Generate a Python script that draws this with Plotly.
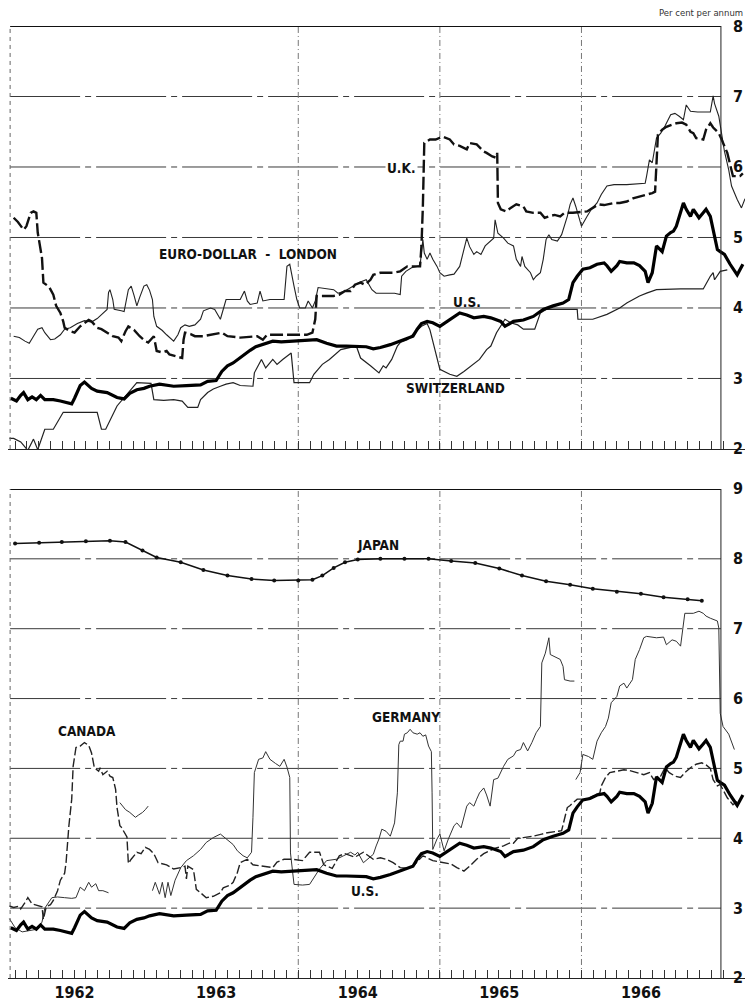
import plotly.graph_objects as go

# ---------------- data (decimal years, per cent per annum) ----------------
# U.S. treasury bill rate (shown in both panels)
us_x = [1961.97, 1962.01, 1962.04, 1962.06, 1962.09, 1962.12, 1962.15, 1962.18, 1962.21, 1962.27,
        1962.32, 1962.36, 1962.40, 1962.42, 1962.46, 1962.49, 1962.54, 1962.58, 1962.65, 1962.72,
        1962.77, 1962.81, 1962.86, 1962.91, 1962.95, 1963.02, 1963.07, 1963.12, 1963.21, 1963.31,
        1963.36, 1963.42, 1963.46, 1963.50, 1963.54, 1963.59, 1963.63, 1963.66, 1963.70, 1963.74,
        1963.78, 1963.82, 1963.88, 1963.95, 1964.03, 1964.13, 1964.20, 1964.27, 1964.34, 1964.41,
        1964.48, 1964.53, 1964.58, 1964.65, 1964.72, 1964.77, 1964.81, 1964.84, 1964.87, 1964.91,
        1964.95, 1965.00, 1965.07, 1965.14, 1965.19, 1965.24, 1965.31, 1965.36, 1965.43, 1965.46,
        1965.52, 1965.59, 1965.66, 1965.73, 1965.80, 1965.87, 1965.91, 1965.94, 1965.97, 1966.01,
        1966.06, 1966.11, 1966.16, 1966.18, 1966.21, 1966.25, 1966.27, 1966.32, 1966.37, 1966.41,
        1966.45, 1966.47, 1966.50, 1966.53, 1966.57, 1966.60, 1966.63, 1966.65, 1966.67, 1966.71,
        1966.72, 1966.74, 1966.77, 1966.79, 1966.83, 1966.86, 1966.88, 1966.91, 1966.93, 1966.96,
        1966.98, 1967.01, 1967.05, 1967.10, 1967.14]
us_y = [2.72, 2.68, 2.76, 2.80, 2.70, 2.74, 2.70, 2.76, 2.70, 2.70,
        2.68, 2.66, 2.64, 2.72, 2.90, 2.95, 2.86, 2.82, 2.80, 2.73,
        2.71, 2.79, 2.84, 2.86, 2.89, 2.92, 2.90, 2.89, 2.90, 2.91,
        2.96, 2.97, 3.10, 3.18, 3.22, 3.30, 3.36, 3.40, 3.45, 3.48,
        3.51, 3.53, 3.52, 3.53, 3.53, 3.55, 3.50, 3.46, 3.46, 3.46,
        3.45, 3.42, 3.44, 3.48, 3.53, 3.56, 3.60, 3.70, 3.78, 3.81,
        3.79, 3.74, 3.84, 3.93, 3.90, 3.86, 3.88, 3.86, 3.81, 3.74,
        3.81, 3.83, 3.88, 3.98, 4.03, 4.07, 4.12, 4.36, 4.45, 4.55,
        4.57, 4.62, 4.64, 4.60, 4.52, 4.60, 4.66, 4.64, 4.64, 4.60,
        4.52, 4.36, 4.50, 4.88, 4.80, 5.02, 5.07, 5.09, 5.16, 5.42,
        5.49, 5.40, 5.30, 5.40, 5.28, 5.35, 5.40, 5.30, 5.11, 4.83,
        4.80, 4.76, 4.62, 4.47, 4.62]

# U.K. treasury bill rate
uk_x = [1961.99, 1962.02, 1962.06, 1962.08, 1962.11, 1962.13, 1962.15, 1962.16, 1962.19, 1962.20,
        1962.24, 1962.27, 1962.29, 1962.32, 1962.34, 1962.35, 1962.39, 1962.42, 1962.46, 1962.49,
        1962.52, 1962.54, 1962.58, 1962.61, 1962.65, 1962.69, 1962.73, 1962.75, 1962.78, 1962.80,
        1962.84, 1962.88, 1962.92, 1962.94, 1962.98, 1963.00, 1963.04, 1963.07, 1963.09, 1963.13,
        1963.18, 1963.19, 1963.20, 1963.24, 1963.27, 1963.33, 1963.38, 1963.46, 1963.50, 1963.56,
        1963.59, 1963.71, 1963.75, 1963.78, 1963.90, 1964.06, 1964.10, 1964.12, 1964.13, 1964.20,
        1964.25, 1964.29, 1964.33, 1964.37, 1964.40, 1964.44, 1964.47, 1964.51, 1964.53, 1964.58,
        1964.67, 1964.72, 1964.77, 1964.86, 1964.87, 1964.88, 1964.89, 1964.93, 1964.97, 1965.02,
        1965.07, 1965.10, 1965.14, 1965.19, 1965.21, 1965.26, 1965.31, 1965.33, 1965.37, 1965.40,
        1965.405, 1965.41, 1965.43, 1965.47, 1965.50, 1965.54, 1965.59, 1965.61, 1965.66, 1965.71,
        1965.74, 1965.77, 1965.81, 1965.85, 1965.88, 1965.94, 1966.00, 1966.04, 1966.08, 1966.12,
        1966.16, 1966.19, 1966.23, 1966.27, 1966.32, 1966.37, 1966.41, 1966.46, 1966.50, 1966.52,
        1966.53, 1966.54, 1966.57, 1966.60, 1966.64, 1966.67, 1966.71, 1966.74, 1966.77, 1966.79,
        1966.81, 1966.86, 1966.88, 1966.91, 1966.93, 1966.97, 1966.99, 1967.01, 1967.03, 1967.07,
        1967.12, 1967.14]
uk_y = [5.28, 5.22, 5.11, 5.16, 5.35, 5.37, 5.35, 5.07, 4.71, 4.36,
        4.30, 4.19, 4.03, 3.93, 3.81, 3.72, 3.67, 3.65, 3.74, 3.79,
        3.83, 3.81, 3.72, 3.70, 3.65, 3.60, 3.58, 3.53, 3.67, 3.74,
        3.69, 3.60, 3.53, 3.51, 3.60, 3.39, 3.37, 3.39, 3.34, 3.32,
        3.29, 3.55, 3.65, 3.63, 3.60, 3.60, 3.62, 3.65, 3.60, 3.58,
        3.58, 3.60, 3.55, 3.62, 3.62, 3.62, 3.65, 3.84, 4.17, 4.17,
        4.17, 4.19, 4.24, 4.24, 4.33, 4.36, 4.33, 4.40, 4.47, 4.50,
        4.50, 4.52, 4.59, 4.59, 4.88, 5.44, 6.34, 6.39, 6.39, 6.43,
        6.39, 6.32, 6.30, 6.25, 6.34, 6.32, 6.22, 6.20, 6.15, 6.13,
        6.20, 5.49, 5.40, 5.37, 5.42, 5.47, 5.44, 5.37, 5.35, 5.35,
        5.28, 5.30, 5.32, 5.30, 5.35, 5.35, 5.36, 5.37, 5.42, 5.47,
        5.46, 5.47, 5.49, 5.49, 5.51, 5.56, 5.58, 5.61, 5.63, 5.65,
        6.01, 6.46, 6.53, 6.57, 6.60, 6.62, 6.63, 6.60, 6.50, 6.48,
        6.41, 6.39, 6.53, 6.62, 6.56, 6.48, 6.39, 6.29, 6.20, 5.87,
        5.87, 5.91]

# Euro-dollar deposit rate, London
euro_x = [1961.99, 1962.03, 1962.07, 1962.10, 1962.13, 1962.16, 1962.19, 1962.21, 1962.25, 1962.28,
          1962.32, 1962.35, 1962.39, 1962.44, 1962.49, 1962.54, 1962.58, 1962.62, 1962.65, 1962.66,
          1962.67, 1962.69, 1962.70, 1962.75, 1962.77, 1962.80, 1962.82, 1962.84, 1962.86, 1962.88,
          1962.91, 1962.93, 1962.95, 1962.97, 1962.98, 1963.00, 1963.04, 1963.07, 1963.12, 1963.15,
          1963.17, 1963.20, 1963.23, 1963.27, 1963.31, 1963.33, 1963.38, 1963.41, 1963.45, 1963.49,
          1963.54, 1963.59, 1963.62, 1963.64, 1963.66, 1963.71, 1963.73, 1963.75, 1963.80, 1963.90,
          1963.92, 1963.94, 1963.97, 1963.99, 1964.01, 1964.05, 1964.07, 1964.10, 1964.12, 1964.14,
          1964.25, 1964.28, 1964.33, 1964.38, 1964.43, 1964.48, 1964.52, 1964.55, 1964.62, 1964.68,
          1964.72, 1964.73, 1964.76, 1964.80, 1964.84, 1964.86, 1964.88, 1964.89, 1964.91, 1964.93,
          1964.95, 1964.98, 1965.00, 1965.03, 1965.07, 1965.10, 1965.14, 1965.17, 1965.19, 1965.21,
          1965.24, 1965.26, 1965.29, 1965.32, 1965.35, 1965.38, 1965.39, 1965.41, 1965.45, 1965.48,
          1965.52, 1965.54, 1965.57, 1965.58, 1965.60, 1965.64, 1965.66, 1965.68, 1965.71, 1965.73,
          1965.75, 1965.77, 1965.79, 1965.83, 1965.86, 1965.90, 1965.92, 1965.94, 1965.96, 1965.98,
          1966.00, 1966.04, 1966.07, 1966.11, 1966.14, 1966.18, 1966.23, 1966.32, 1966.41, 1966.45,
          1966.46, 1966.48, 1966.50, 1966.53, 1966.56, 1966.59, 1966.63, 1966.66, 1966.69, 1966.72,
          1966.74, 1966.77, 1966.82, 1966.86, 1966.91, 1966.93, 1966.94, 1966.97, 1966.99, 1967.01,
          1967.04, 1967.06, 1967.10, 1967.13, 1967.155]
euro_y = [3.60, 3.58, 3.53, 3.50, 3.60, 3.70, 3.72, 3.65, 3.55, 3.56,
          3.62, 3.70, 3.72, 3.78, 3.82, 3.80, 3.85, 3.92, 3.98, 4.22,
          4.26, 4.12, 3.98, 3.96, 3.95, 4.26, 4.31, 4.18, 4.03, 4.15,
          4.31, 4.33, 4.25, 4.12, 3.88, 3.74, 3.68, 3.62, 3.53, 3.62,
          3.72, 3.76, 3.74, 3.76, 3.84, 3.96, 4.00, 3.98, 3.84, 4.12,
          4.12, 4.12, 4.24, 4.10, 4.05, 4.07, 4.24, 4.10, 4.12, 4.12,
          4.59, 4.62, 4.31, 4.12, 4.00, 4.00, 4.10, 4.00, 4.10, 4.29,
          4.26, 4.21, 4.24, 4.30, 4.36, 4.40, 4.26, 4.21, 4.21, 4.21,
          4.19, 4.45, 4.52, 4.57, 4.59, 4.60, 4.97, 4.78, 4.69, 4.78,
          4.69, 4.59, 4.50, 4.45, 4.47, 4.48, 4.59, 4.83, 4.99, 4.87,
          4.76, 4.80, 4.76, 4.88, 4.93, 4.99, 5.25, 5.06, 4.99, 4.92,
          4.88, 4.69, 4.59, 4.73, 4.59, 4.50, 4.40, 4.45, 4.50, 4.69,
          4.97, 5.04, 4.97, 4.95, 5.04, 5.30, 5.47, 5.56, 5.44, 5.30,
          5.16, 5.30, 5.40, 5.49, 5.61, 5.73, 5.75, 5.75, 5.76, 5.77,
          5.87, 6.10, 6.06, 6.41, 6.48, 6.58, 6.74, 6.76, 6.72, 6.67,
          6.88, 6.79, 6.78, 6.78, 6.78, 7.01, 6.90, 6.72, 6.48, 6.22,
          5.96, 5.73, 5.54, 5.42, 5.55]

# Switzerland
swiss_x = [1961.96, 1961.99, 1962.04, 1962.09, 1962.13, 1962.16, 1962.21, 1962.27, 1962.34, 1962.45,
           1962.58, 1962.61, 1962.64, 1962.72, 1962.80, 1962.86, 1962.96, 1962.98, 1963.05, 1963.12,
           1963.18, 1963.22, 1963.29, 1963.31, 1963.36, 1963.40, 1963.45, 1963.49, 1963.54, 1963.59,
           1963.68, 1963.69, 1963.74, 1963.77, 1963.82, 1963.85, 1963.89, 1963.95, 1963.97, 1964.08,
           1964.11, 1964.17, 1964.22, 1964.27, 1964.30, 1964.41, 1964.44, 1964.51, 1964.57, 1964.60,
           1964.62, 1964.66, 1964.70, 1964.72, 1964.77, 1964.87, 1964.91, 1964.93, 1964.97, 1965.00,
           1965.07, 1965.12, 1965.17, 1965.28, 1965.33, 1965.36, 1965.40, 1965.46, 1965.50, 1965.55,
           1965.59, 1965.67, 1965.71, 1965.75, 1965.90, 1965.97, 1965.975, 1966.08, 1966.18, 1966.27,
           1966.32, 1966.41, 1966.46, 1966.53, 1966.70, 1966.86, 1966.91, 1966.93, 1966.94, 1966.98,
           1967.03]
swiss_y = [2.15, 2.15, 2.10, 1.98, 2.14, 1.99, 2.28, 2.28, 2.52, 2.52,
           2.52, 2.28, 2.28, 2.61, 2.80, 2.94, 2.93, 2.70, 2.69, 2.70,
           2.68, 2.59, 2.59, 2.70, 2.80, 2.85, 2.89, 2.92, 2.94, 2.90,
           2.89, 3.08, 3.27, 3.15, 3.27, 3.20, 3.27, 3.36, 2.94, 2.94,
           3.06, 3.20, 3.27, 3.36, 3.41, 3.46, 3.29, 3.18, 3.08, 3.18,
           3.15, 3.27, 3.46, 3.51, 3.55, 3.74, 3.78, 3.69, 3.36, 3.13,
           3.06, 3.03, 3.10, 3.27, 3.41, 3.46, 3.65, 3.84, 3.79, 3.76,
           3.70, 3.70, 3.93, 3.98, 3.98, 3.98, 3.84, 3.84, 3.91, 4.00,
           4.07, 4.17, 4.21, 4.26, 4.27, 4.27, 4.45, 4.50, 4.40, 4.52,
           4.54]

# Japan (bottom panel)
japan_x = [1962.00, 1962.17, 1962.33, 1962.50, 1962.67, 1962.78, 1962.90, 1963.00, 1963.17, 1963.33,
           1963.50, 1963.67, 1963.83, 1964.00, 1964.10, 1964.17, 1964.25, 1964.33, 1964.42, 1964.58,
           1964.75, 1964.92, 1965.08, 1965.25, 1965.42, 1965.58, 1965.75, 1965.92, 1966.08, 1966.25,
           1966.42, 1966.58, 1966.75, 1966.85]
japan_y = [8.22, 8.23, 8.24, 8.25, 8.26, 8.24, 8.12, 8.02, 7.95, 7.84,
           7.76, 7.71, 7.69, 7.69, 7.70, 7.76, 7.87, 7.95, 7.99, 8.00,
           8.00, 8.00, 7.97, 7.94, 7.86, 7.76, 7.68, 7.63, 7.57, 7.53,
           7.50, 7.45, 7.42, 7.40]

# Canada (bottom panel)
canada_x = [1961.96, 1961.99, 1962.03, 1962.04, 1962.07, 1962.09, 1962.12, 1962.15, 1962.19, 1962.20,
            1962.22, 1962.25, 1962.27, 1962.30, 1962.32, 1962.35, 1962.36, 1962.38, 1962.40, 1962.41,
            1962.43, 1962.46, 1962.49, 1962.52, 1962.54, 1962.56, 1962.59, 1962.60, 1962.62, 1962.65,
            1962.67, 1962.69, 1962.71, 1962.72, 1962.74, 1962.75, 1962.77, 1962.79, 1962.80, 1962.82,
            1962.86, 1962.89, 1962.92, 1962.95, 1962.98, 1963.01, 1963.07, 1963.12, 1963.17, 1963.20,
            1963.21, 1963.22, 1963.26, 1963.28, 1963.31, 1963.35, 1963.40, 1963.45, 1963.47, 1963.52,
            1963.54, 1963.57, 1963.59, 1963.64, 1963.68, 1963.75, 1963.82, 1963.85, 1963.90, 1963.96,
            1964.03, 1964.08, 1964.15, 1964.18, 1964.24, 1964.29, 1964.33, 1964.40, 1964.46, 1964.53,
            1964.58, 1964.62, 1964.67, 1964.72, 1964.77, 1964.82, 1964.88, 1964.95, 1965.02, 1965.08,
            1965.12, 1965.17, 1965.21, 1965.26, 1965.31, 1965.38, 1965.45, 1965.50, 1965.52, 1965.55,
            1965.59, 1965.66, 1965.72, 1965.76, 1965.83, 1965.86, 1965.90, 1965.92, 1965.97, 1966.04,
            1966.08, 1966.13, 1966.14, 1966.17, 1966.20, 1966.25, 1966.30, 1966.34, 1966.39, 1966.44,
            1966.48, 1966.51, 1966.56, 1966.59, 1966.62, 1966.66, 1966.70, 1966.73, 1966.77, 1966.81,
            1966.85, 1966.88, 1966.91, 1966.93, 1966.96, 1966.98, 1967.03, 1967.07, 1967.10]
canada_y = [3.03, 3.01, 3.03, 2.99, 3.08, 3.15, 3.06, 3.04, 3.02, 2.84,
            3.02, 3.05, 3.11, 3.25, 3.40, 3.50, 3.65, 4.18, 4.56, 5.03,
            5.30, 5.32, 5.37, 5.33, 5.22, 5.01, 4.96, 5.01, 4.91, 4.96,
            4.89, 4.87, 4.70, 4.44, 4.18, 4.16, 4.08, 4.02, 3.64, 3.70,
            3.80, 3.78, 3.87, 3.84, 3.78, 3.65, 3.62, 3.56, 3.58, 3.60,
            3.42, 3.60, 3.55, 3.27, 3.22, 3.15, 3.17, 3.22, 3.29, 3.33,
            3.37, 3.51, 3.65, 3.70, 3.62, 3.60, 3.58, 3.66, 3.70, 3.70,
            3.68, 3.80, 3.80, 3.62, 3.57, 3.75, 3.78, 3.73, 3.80, 3.70,
            3.72, 3.70, 3.65, 3.58, 3.57, 3.62, 3.75, 3.68, 3.65, 3.63,
            3.58, 3.53, 3.60, 3.70, 3.78, 3.85, 3.89, 3.94, 3.93, 4.00,
            4.01, 4.03, 4.06, 4.08, 4.10, 4.11, 4.44, 4.47, 4.56, 4.56,
            4.60, 4.65, 4.75, 4.87, 4.94, 4.96, 4.98, 4.97, 4.94, 4.91,
            4.94, 4.84, 4.89, 5.01, 4.94, 4.89, 4.87, 4.94, 5.01, 5.06,
            5.08, 5.05, 5.00, 4.84, 4.75, 4.77, 4.58, 4.48, 4.53]

# Germany (bottom panel; None marks breaks in the printed line)
germany_x = [1961.96, 1962.00, 1962.05, 1962.10, 1962.16, 1962.19, 1962.21, 1962.26, 1962.30, 1962.35,
             1962.40, 1962.43, 1962.46, 1962.49, 1962.52, 1962.54, 1962.57, 1962.59, 1962.62, 1962.66,
             None,
             1962.74, 1962.78, 1962.81, 1962.85, 1962.87, 1962.90, 1962.92, 1962.94,
             None,
             1962.97, 1962.99, 1963.02, 1963.04, 1963.06, 1963.08, 1963.10, 1963.13, 1963.17, 1963.21,
             1963.26, 1963.31, 1963.35, 1963.40, 1963.45, 1963.49, 1963.54, 1963.57, 1963.61, 1963.64,
             1963.67, 1963.68, 1963.69, 1963.72, 1963.75, 1963.77, 1963.80, 1963.84, 1963.87, 1963.90,
             1963.92, 1963.94, 1963.945, 1963.97, 1964.03, 1964.08, 1964.13, 1964.15, 1964.20, 1964.27,
             1964.32, 1964.37, 1964.40, 1964.42, 1964.46, 1964.50, 1964.53, 1964.55, 1964.57, 1964.59,
             1964.62, 1964.65, 1964.68, 1964.70, 1964.71, 1964.72, 1964.74, 1964.75, 1964.77, 1964.79,
             1964.81, 1964.84, 1964.86, 1964.88, 1964.90, 1964.92, 1964.94, 1964.945, 1964.95, 1964.98,
             1965.00, 1965.03, 1965.06, 1965.10, 1965.12, 1965.15, 1965.17, 1965.19, 1965.21, 1965.24,
             1965.26, 1965.28, 1965.31, 1965.33, 1965.355, 1965.38, 1965.41, 1965.45, 1965.48, 1965.52,
             1965.54, 1965.57, 1965.59, 1965.62, 1965.65, 1965.68, 1965.71, 1965.72, 1965.745, 1965.77,
             1965.78, 1965.81, 1965.85, 1965.87, 1965.88, 1965.92, 1965.95,
             None,
             1965.96, 1965.99, 1966.01, 1966.05, 1966.08, 1966.11, 1966.14, 1966.17, 1966.19, 1966.21,
             1966.25, 1966.27, 1966.30, 1966.32, 1966.36, 1966.38, 1966.41, 1966.44, 1966.46, 1966.53,
             1966.58, 1966.60, 1966.64, 1966.67, 1966.70, 1966.72, 1966.73, 1966.79, 1966.83, 1966.86,
             1966.88, 1966.91, 1966.96, 1966.97, 1966.975, 1966.98, 1967.00, 1967.04, 1967.08]
germany_y = [2.85, 2.72, 2.66, 2.68, 2.70, 2.80, 3.00, 3.15, 3.16, 3.15,
             3.14, 3.15, 3.30, 3.25, 3.37, 3.30, 3.35, 3.25, 3.25, 3.22,
             None,
             4.51, 4.41, 4.37, 4.30, 4.33, 4.37, 4.41, 4.46,
             None,
             3.25, 3.37, 3.20, 3.37, 3.15, 3.37, 3.18, 3.40, 3.58, 3.68,
             3.75, 3.84, 3.94, 4.01, 4.06, 3.99, 3.91, 3.82, 3.75, 3.72,
             3.80, 4.30, 4.94, 5.13, 5.15, 5.24, 5.13, 5.07, 5.03, 5.13,
             5.02, 4.87, 3.79, 3.34, 3.33, 3.34, 3.51, 3.56, 3.68, 3.70,
             3.75, 3.80, 3.76, 3.80, 3.65, 3.72, 3.77, 3.89, 3.99, 4.13,
             4.10, 4.03, 4.22, 4.65, 5.34, 5.39, 5.39, 5.49, 5.51, 5.56,
             5.51, 5.49, 5.51, 5.46, 5.48, 5.32, 5.24, 4.65, 3.84, 3.99,
             4.06, 3.82, 3.99, 4.18, 4.22, 4.15, 4.32, 4.46, 4.51, 4.46,
             4.56, 4.65, 4.72, 4.62, 4.46, 4.84, 4.86, 5.03, 5.13, 5.18,
             5.25, 5.27, 5.37, 5.25, 5.37, 5.51, 5.60, 6.51, 6.65, 6.87,
             6.63, 6.60, 6.56, 6.46, 6.27, 6.25, 6.25,
             None,
             4.84, 4.94, 5.20, 5.17, 5.13, 5.39, 5.51, 5.60, 5.72, 5.94,
             6.03, 6.18, 6.22, 6.15, 6.27, 6.56, 6.70, 6.87, 6.89, 6.87,
             6.88, 6.77, 6.84, 6.82, 6.75, 7.08, 7.22, 7.22, 7.25, 7.22,
             7.18, 7.15, 7.11, 7.01, 6.08, 5.79, 5.60, 5.49, 5.27]

# axis / tick text
year_labels = ["1962", "1963", "1964", "1965", "1966"]
year_label_pos = [1962.42, 1963.42, 1964.42, 1965.42, 1966.42]
month_ticks = [1962 + m / 12 for m in range(61)]
top_ticks = [2, 3, 4, 5, 6, 7, 8]
bottom_ticks = [2, 3, 4, 5, 6, 7, 8, 9]
top_grid = [3, 4, 5, 6, 7]
bottom_grid = [3, 4, 5, 6, 7, 8]
year_grid = [1964, 1965, 1966]

# ---------------- figure ----------------
X0, X1 = 1961.95, 1967.155
LEFT, RIGHT = 1961.965, 1966.985
NARROW = "DejaVu Sans Condensed, Liberation Sans Narrow, DejaVu Sans, sans-serif"
INK = "#111111"

fig = go.Figure()

def add(x, y, xa, ya, width, dash="solid", color=INK, markers=False):
    fig.add_trace(go.Scatter(
        x=x, y=y, xaxis=xa, yaxis=ya,
        mode="lines+markers" if markers else "lines",
        line=dict(color=color, width=width, dash=dash),
        marker=dict(size=4, color=color),
        hoverinfo="skip", showlegend=False))

# top panel (x2 / y2)
add(swiss_x, swiss_y, "x2", "y2", 1.2, color="#222222")
add(euro_x, euro_y, "x2", "y2", 1.1, color="#222222")
add(uk_x, uk_y, "x2", "y2", 2.4, dash="13px,4px")
add(us_x, us_y, "x2", "y2", 3.2, color="#000000")

# bottom panel (x / y)
add(japan_x, japan_y, "x", "y", 1.5, markers=True)
add(germany_x, germany_y, "x", "y", 1.0, color="#333333")
add(canada_x, canada_y, "x", "y", 1.4, dash="9px,3px", color="#222222")
add(us_x, us_y, "x", "y", 3.2, color="#000000")

shapes = []
for v in top_grid:
    shapes.append(dict(type="line", xref="x2", yref="y2", x0=LEFT, x1=RIGHT, y0=v, y1=v,
                       line=dict(color="#3a3a3a", width=1, dash="70px,5px,6px,5px"), layer="below"))
for v in bottom_grid:
    shapes.append(dict(type="line", xref="x", yref="y", x0=LEFT, x1=RIGHT, y0=v, y1=v,
                       line=dict(color="#3a3a3a", width=1, dash="70px,5px,6px,5px"), layer="below"))
for xa, ya, lo, hi in (("x2", "y2", 2, 8), ("x", "y", 2, 9)):
    for g in year_grid:
        shapes.append(dict(type="line", xref=xa, yref=ya, x0=g, x1=g, y0=lo, y1=hi,
                           line=dict(color="#777777", width=1, dash="6px,3px,1px,3px"), layer="below"))
    shapes.append(dict(type="line", xref=xa, yref=ya, x0=LEFT, x1=RIGHT, y0=hi, y1=hi,
                       line=dict(color=INK, width=2)))
    shapes.append(dict(type="line", xref=xa, yref=ya, x0=RIGHT, x1=RIGHT, y0=lo, y1=hi,
                       line=dict(color="#222222", width=1)))
    shapes.append(dict(type="line", xref=xa, yref=ya, x0=LEFT, x1=LEFT, y0=lo, y1=hi,
                       line=dict(color="#666666", width=1, dash="4px,4px")))

label_font = dict(family=NARROW, size=13.5, color=INK, weight="bold")
labels = [
    ("x2", "y2", 1964.73, 5.99, "U.K.", "white"),
    ("x2", "y2", 1963.645, 4.77, "EURO-DOLLAR  -  LONDON", None),
    ("x2", "y2", 1965.19, 4.08, "U.S.", None),
    ("x2", "y2", 1965.11, 2.86, "SWITZERLAND", None),
    ("x", "y", 1964.56, 8.20, "JAPAN", None),
    ("x", "y", 1962.51, 5.53, "CANADA", None),
    ("x", "y", 1964.76, 5.74, "GERMANY", None),
    ("x", "y", 1964.47, 3.24, "U.S.", None),
]
annotations = []
for xa, ya, x, y, t, bg in labels:
    a = dict(xref=xa, yref=ya, x=x, y=y, text=t, showarrow=False, font=label_font,
             xanchor="center", yanchor="middle")
    if bg:
        a["bgcolor"] = bg
    annotations.append(a)

# right-hand scale numbers
tick_font = dict(family=NARROW, size=16, color=INK, weight="bold")
for ya, vals in (("y2", top_ticks), ("y", bottom_ticks)):
    for v in vals:
        annotations.append(dict(xref="paper", yref=ya, x=0.9905, y=v, text=str(v),
                                showarrow=False, xanchor="center", yanchor="middle",
                                font=tick_font))

annotations.append(dict(xref="paper", yref="paper", x=1.0, y=1.0137, xanchor="right", yanchor="middle",
                        text="Per cent per annum", showarrow=False,
                        font=dict(family="DejaVu Sans", size=8.5, color="#333333")))

xcommon = dict(range=[X0, X1], showgrid=False, zeroline=False, showline=True,
               linecolor="#222222", linewidth=1.2, ticks="",
               minor=dict(tickvals=month_ticks, ticks="inside", ticklen=8,
                          tickwidth=1, tickcolor="#333333", showgrid=False))
ycommon = dict(showgrid=False, zeroline=False, showline=False, showticklabels=False, ticks="")

fig.update_layout(
    width=745, height=1004,
    margin=dict(l=8, r=0, t=26, b=26),
    paper_bgcolor="white", plot_bgcolor="white",
    showlegend=False,
    xaxis=dict(**xcommon, anchor="y", tickvals=year_label_pos, ticktext=year_labels,
               tickfont=dict(family=NARROW, size=16, color=INK, weight="bold")),
    xaxis2=dict(**xcommon, anchor="y2", showticklabels=False),
    yaxis=dict(**ycommon, domain=[0.0, 0.5137], range=[2, 9], anchor="x"),
    yaxis2=dict(**ycommon, domain=[0.5557, 1.0], range=[2, 8], anchor="x2"),
    shapes=shapes,
    annotations=annotations,
)

fig.write_html("out.html")
